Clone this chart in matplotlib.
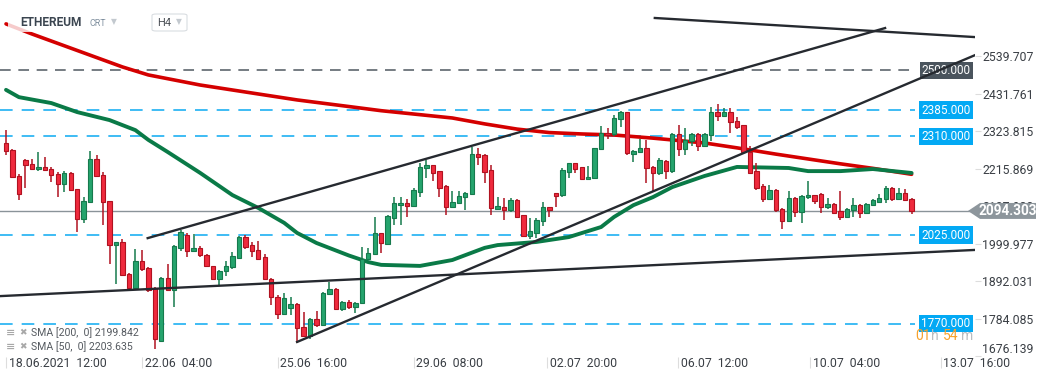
'''ETHEREUM H4 chart with SMA lines, trend lines and price levels.'''
import matplotlib
matplotlib.use('Agg')
import matplotlib.pyplot as plt
import matplotlib.transforms as mtransforms
from matplotlib.patches import Polygon, FancyBboxPatch, Rectangle

plt.rcParams['font.family'] = ['Roboto', 'DejaVu Sans']

# candles (H4)
OPEN = [2289, 2270, 2196, 2241, 2230, 2214, 2220, 2215, 2201, 2172,
        2204, 2158, 2071, 2121, 2244, 2198, 2122, 1996, 2004, 1913,
        1873, 1950, 1931, 1873, 1721, 1901, 1868, 1987, 2026, 1980,
        1989, 1968, 1935, 1899, 1920, 1932, 1959, 2020, 1995, 1982,
        1961, 1899, 1846, 1798, 1815, 1827, 1761, 1734, 1782, 1767,
        1855, 1870, 1812, 1831, 1819, 1828, 1955, 1969, 2030, 1999,
        2073, 2110, 2116, 2109, 2150, 2217, 2226, 2209, 2166, 2107,
        2118, 2134, 2143, 2258, 2255, 2212, 2101, 2105, 2097, 2126,
        2083, 2023, 2032, 2066, 2105, 2145, 2140, 2207, 2231, 2220,
        2185, 2188, 2272, 2318, 2315, 2358, 2378, 2258, 2265, 2275,
        2220, 2203, 2238, 2210, 2315, 2272, 2297, 2315, 2281, 2313,
        2379, 2369, 2378, 2352, 2341, 2265, 2209, 2166, 2128, 2155,
        2099, 2066, 2131, 2092, 2134, 2140, 2143, 2107, 2113, 2094,
        2078, 2097, 2111, 2089, 2110, 2121, 2128, 2159, 2128, 2145,
        2129]
HIGH = [2328, 2273, 2201, 2244, 2244, 2265, 2251, 2220, 2206, 2209,
        2206, 2158, 2134, 2268, 2254, 2206, 2124, 2006, 2014, 1915,
        1985, 1982, 1932, 1875, 1903, 1942, 1995, 2038, 2032, 2028,
        1992, 1971, 1937, 1923, 1949, 1977, 2023, 2025, 2004, 2009,
        1969, 1901, 1851, 1857, 1846, 1828, 1804, 1785, 1807, 1862,
        1889, 1872, 1836, 1838, 1833, 1990, 1987, 2078, 2030, 2083,
        2135, 2134, 2128, 2159, 2231, 2241, 2226, 2210, 2169, 2153,
        2153, 2150, 2279, 2275, 2257, 2227, 2135, 2131, 2131, 2128,
        2083, 2073, 2073, 2119, 2107, 2147, 2217, 2233, 2233, 2222,
        2224, 2277, 2339, 2332, 2371, 2383, 2380, 2270, 2301, 2299,
        2224, 2246, 2241, 2320, 2342, 2332, 2320, 2320, 2318, 2395,
        2402, 2390, 2390, 2364, 2342, 2281, 2233, 2171, 2169, 2158,
        2102, 2152, 2134, 2139, 2181, 2140, 2145, 2131, 2116, 2152,
        2102, 2131, 2113, 2116, 2129, 2143, 2166, 2164, 2159, 2157,
        2131]
LOW = [2256, 2191, 2127, 2160, 2212, 2209, 2210, 2179, 2134, 2148,
       2153, 2033, 2060, 2119, 2193, 2054, 1942, 1884, 1906, 1870,
       1867, 1921, 1860, 1697, 1716, 1868, 1817, 1980, 1961, 1975,
       1961, 1932, 1897, 1879, 1908, 1927, 1956, 1985, 1961, 1953,
       1894, 1824, 1783, 1795, 1796, 1713, 1731, 1726, 1759, 1764,
       1851, 1810, 1807, 1812, 1801, 1828, 1953, 1969, 1972, 1996,
       2054, 2054, 2078, 2107, 2135, 2190, 2181, 2135, 2083, 2105,
       2118, 2097, 2141, 2227, 2176, 2083, 2097, 2068, 2092, 2078,
       2018, 2013, 2015, 2051, 2078, 2105, 2135, 2190, 2205, 2183,
       2182, 2186, 2270, 2301, 2310, 2337, 2255, 2236, 2262, 2176,
       2150, 2198, 2186, 2205, 2253, 2255, 2281, 2268, 2278, 2297,
       2354, 2368, 2320, 2329, 2260, 2201, 2155, 2121, 2126, 2092,
       2041, 2063, 2078, 2059, 2128, 2114, 2089, 2099, 2085, 2068,
       2073, 2076, 2075, 2087, 2109, 2119, 2118, 2123, 2126, 2124,
       2086]
CLOSE = [2266, 2193, 2143, 2227, 2215, 2222, 2212, 2198, 2172, 2204,
         2155, 2071, 2124, 2244, 2196, 2121, 1996, 2004, 1910, 1873,
         1950, 1926, 1867, 1726, 1901, 1868, 1992, 2035, 1978, 1988,
         1966, 1935, 1899, 1921, 1935, 1964, 2020, 1990, 1980, 1956,
         1897, 1846, 1798, 1844, 1827, 1757, 1734, 1782, 1767, 1859,
         1870, 1812, 1831, 1819, 1830, 1955, 1972, 2030, 2001, 2080,
         2116, 2116, 2109, 2155, 2222, 2226, 2205, 2161, 2107, 2119,
         2137, 2147, 2258, 2251, 2207, 2102, 2109, 2097, 2126, 2078,
         2022, 2037, 2068, 2105, 2097, 2138, 2212, 2231, 2215, 2185,
         2191, 2275, 2318, 2313, 2361, 2378, 2260, 2268, 2275, 2217,
         2203, 2241, 2210, 2315, 2272, 2299, 2315, 2281, 2315, 2379,
         2369, 2378, 2350, 2337, 2265, 2203, 2161, 2128, 2155, 2097,
         2066, 2131, 2092, 2137, 2140, 2124, 2107, 2113, 2089, 2078,
         2100, 2111, 2089, 2114, 2126, 2133, 2159, 2128, 2145, 2126,
         2094.303]

# moving averages (candle index, value)
SMA200_IDX = [0, 4, 18, 22, 30, 38, 45, 53, 58, 69, 74, 79, 84, 89, 94,
              100, 108, 113, 119, 124, 129, 134, 140]
SMA200_VAL = [2633, 2604, 2509, 2486, 2457, 2434, 2414, 2395, 2383, 2362,
              2345, 2330, 2320, 2316, 2313, 2304, 2290, 2276, 2258, 2244,
              2230, 2217, 2199.842]
SMA50_IDX = [0, 2, 7, 11, 16, 20, 22, 25, 30, 35, 39, 43, 45, 48, 53, 56,
             58, 64, 69, 74, 76, 82, 87, 92, 94, 97, 100, 103, 108, 113,
             121, 124, 129, 134, 140]
SMA50_VAL = [2443, 2422, 2405, 2379, 2356, 2327, 2299, 2264, 2204, 2140,
             2103, 2060, 2031, 2002, 1966, 1947, 1939, 1936, 1953, 1988,
             1996, 2005, 2019, 2048, 2077, 2111, 2134, 2163, 2195, 2221,
             2218, 2209, 2209, 2215, 2203.635]

# hand drawn trend lines: (index start, price start, index end, price end)
TRENDLINES = [(100.3, 2650, 149.8, 2595),
              (21.9, 2016, 135.9, 2621),
              (45.0, 1717, 149.8, 2543),
              (-0.93, 1849, 149.8, 1982)]

LEVELS_BLUE = [2385, 2310, 2025, 1770]
LEVEL_GREY = 2500
LAST_PRICE = 2094.303

YTICKS = [2539.707, 2431.761, 2323.815, 2215.869, 2107.923,
          1999.977, 1892.031, 1784.085, 1676.139]
XTICK_POS = [0, 21, 42, 63, 83.6, 103.9, 124.3, 144.5]
XTICK_LABELS = ['18.06.2021  12:00', '22.06  04:00', '25.06  16:00',
                '29.06  08:00', '02.07  20:00', '06.07  12:00',
                '10.07  04:00', '13.07  16:00']

GREEN = '#25a46d'
GREEN_EDGE = '#167a4d'
RED = '#ef2a3d'
RED_EDGE = '#b01220'
BLUE = '#19aef2'
TEXT = '#3a3f45'

W, H = 1041, 380


def fx(px):
    '''Figure x fraction from pixels.'''
    return px / W


def fy(py):
    '''Figure y fraction from pixels (from top).'''
    return 1 - py / H


def main():
    '''Main.'''
    fig = plt.figure(figsize=(W / 100, H / 100), dpi=100)
    ax = fig.add_axes([0, fy(356.5), fx(975), 356.5 / H])
    ax.set_xlim(-0.93, 149.8)
    ax.set_ylim(1675.1, 2701.8)
    for s in ax.spines.values():
        s.set_visible(False)

    # levels
    ax.hlines(LEVELS_BLUE, -1, 140.6, colors=BLUE, lw=1.3,
              linestyles=(0, (7, 5)), zorder=1, alpha=0.9)
    ax.hlines([LEVEL_GREY], -1, 140.6, colors='#505860', lw=1.1,
              linestyles=(0, (7, 5)), zorder=1)
    ax.axhline(LAST_PRICE, color='#8a9399', lw=1, zorder=1)

    # moving averages
    ax.plot(SMA200_IDX, SMA200_VAL, color='#d40000', lw=2.6, zorder=2,
            solid_capstyle='round')
    ax.plot(SMA50_IDX, SMA50_VAL, color='#0a7a47', lw=2.8, zorder=2,
            solid_capstyle='round')

    # candles
    idx = list(range(len(OPEN)))
    up = [c >= o for o, c in zip(OPEN, CLOSE)]
    face = [GREEN if u else RED for u in up]
    edge = [GREEN_EDGE if u else RED_EDGE for u in up]
    ax.vlines(idx, LOW, HIGH, colors=edge, lw=1.1, zorder=3)
    heights = [max(abs(c - o), 3) for o, c in zip(OPEN, CLOSE)]
    bottoms = [min(o, c) for o, c in zip(OPEN, CLOSE)]
    ax.bar(idx, heights, bottom=bottoms, width=0.68, color=face,
           edgecolor=edge, linewidth=0.8, zorder=4)

    # trend lines
    for x0, y0, x1, y1 in TRENDLINES:
        ax.plot([x0, x1], [y0, y1], color='#262a30', lw=1.7, zorder=6)

    # level price boxes
    bt = mtransforms.blended_transform_factory(ax.transAxes, ax.transData)
    for lvl in LEVELS_BLUE:
        ax.text(0.9703, lvl, f'{lvl:.3f}', transform=bt, ha='center',
                va='center', color='white', fontsize=8.5, zorder=5,
                bbox=dict(boxstyle='square,pad=0.17', fc='#03a9f4',
                          ec='none'))
    ax.text(0.9703, LEVEL_GREY, f'{LEVEL_GREY:.3f}', transform=bt,
            ha='center', va='center', color='white', fontsize=8.5, zorder=5,
            bbox=dict(boxstyle='square,pad=0.17', fc='#4a545d', ec='none'))

    # right axis
    ax.yaxis.tick_right()
    ax.set_yticks(YTICKS)
    ax.set_yticklabels([f'{v:.3f}' for v in YTICKS])
    ax.tick_params(axis='y', length=4, color='#dddddd', labelsize=8.8,
                   labelcolor=TEXT, pad=1.2)
    ax.get_yticklabels()[-1].set_va('bottom')

    # bottom axis
    ax.set_xticks(XTICK_POS)
    ax.set_xticklabels(XTICK_LABELS)
    ax.tick_params(axis='x', length=8, color='#dddddd', labelsize=8.8,
                   labelcolor=TEXT, pad=-7.5, direction='out')
    shift = mtransforms.ScaledTranslation(2 / 72, 0, fig.dpi_scale_trans)
    for lab in ax.get_xticklabels():
        lab.set_ha('left')
        lab.set_va('top')
        lab.set_transform(lab.get_transform() + shift)

    # last price tag
    tb = mtransforms.blended_transform_factory(fig.transFigure, ax.transData)
    hh = 23
    tag = Polygon([(fx(968), LAST_PRICE), (fx(980), LAST_PRICE + hh),
                   (fx(1036), LAST_PRICE + hh), (fx(1036), LAST_PRICE - hh),
                   (fx(980), LAST_PRICE - hh)], closed=True,
                  transform=tb, fc='#8d969c', ec='none', zorder=10,
                  clip_on=False)
    fig.add_artist(tag)
    fig.text(fx(1008), LAST_PRICE, f'{LAST_PRICE:.3f}', transform=tb,
             ha='center', va='center', color='white', fontsize=9.8,
             fontweight='bold', zorder=11)

    # header panel
    fig.add_artist(Rectangle((fx(8), fy(32)), fx(190), 24 / H,
                             transform=fig.transFigure, fc='white',
                             ec='none', alpha=0.8, zorder=20))
    fig.text(fx(20), fy(23), 'ETHEREUM', fontsize=8.6, fontweight='bold',
             color='#3b4550', va='center', zorder=21)
    fig.text(fx(89), fy(23.5), 'CRT', fontsize=6.4, color='#7f8f9e',
             va='center', zorder=21)
    fig.text(fx(111), fy(22), '\u25bc', fontsize=5.5, color='#c3c9cf',
             va='center', zorder=21, family=['DejaVu Sans'])
    fig.add_artist(FancyBboxPatch((fx(152), fy(31)), fx(35), 17 / H,
                                  boxstyle='round,pad=0,rounding_size=0.004',
                                  transform=fig.transFigure, fc='white',
                                  ec='#d9dde1', lw=0.8, zorder=21))
    fig.text(fx(157), fy(23), 'H4', fontsize=8, color='#4a4f55',
             va='center', zorder=22)
    fig.text(fx(176), fy(22), '\u25bc', fontsize=5.5, color='#c3c9cf',
             va='center', zorder=22, family=['DejaVu Sans'])

    # legend
    for py, label in [(333, 'SMA [200,  0] 2199.842'),
                      (347, 'SMA [50,  0] 2203.635')]:
        fig.text(fx(6), fy(py), '\u2261', fontsize=8, color='#a8a8a8',
                 va='center', fontweight='bold', family=['DejaVu Sans'])
        fig.text(fx(19), fy(py), '\u2716', fontsize=6.5, color='#a8a8a8',
                 va='center', family=['DejaVu Sans'])
        fig.text(fx(31), fy(py), label, fontsize=7.6, color='#555a60',
                 va='center')

    # countdown
    for px, txt, col in [(915, '01', '#f7a12b'), (931, 'h', '#b8bcc0'),
                         (943, '54', '#f7a12b'), (960.5, 'm', '#b8bcc0')]:
        fig.text(fx(px), fy(336.5), txt, fontsize=10, color=col,
                 va='center', zorder=12)

    fig.savefig('out.png', dpi=100)


if __name__ == '__main__':
    main()
